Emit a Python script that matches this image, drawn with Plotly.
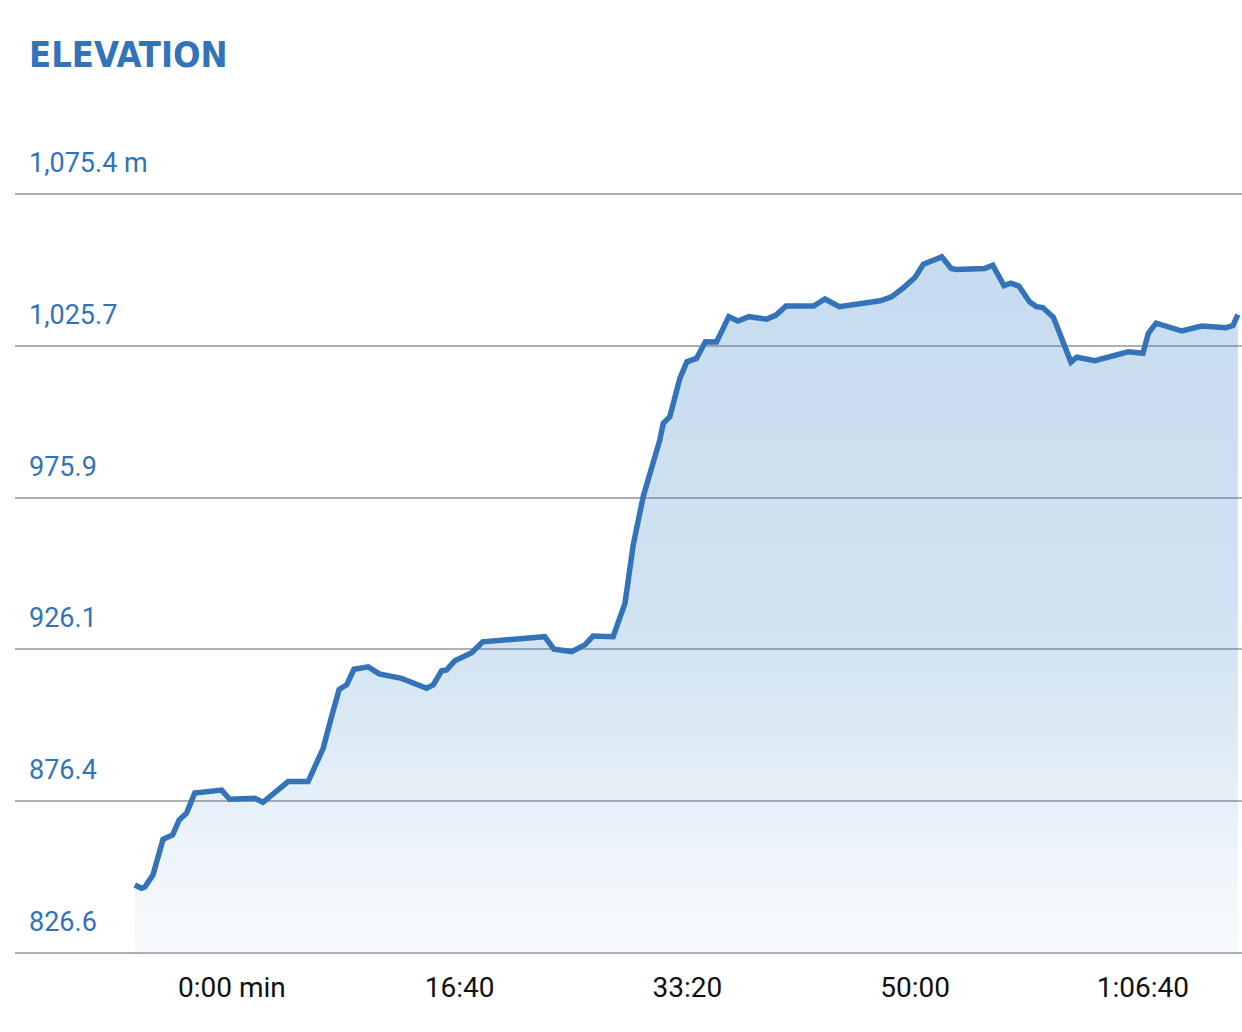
import plotly.graph_objects as go

# elapsed time (seconds) and elevation (m)
time_s = [-426, -397, -382, -346, -302, -260, -231, -199, -163, -45, -9, 101, 137,
          247, 335, 369, 401, 438, 471, 504, 536, 599, 647, 745, 855, 884, 921, 943,
          979, 1053, 1101, 1374, 1414, 1492, 1550, 1586, 1674, 1726, 1762, 1806, 1843,
          1879, 1894, 1923, 1967, 1998, 2040, 2079, 2128, 2182, 2222, 2270, 2349, 2389,
          2433, 2554, 2604, 2667, 2847, 2896, 2946, 3000, 3036, 3117, 3158, 3180, 3305,
          3341, 3390, 3420, 3456, 3502, 3532, 3560, 3607, 3684, 3710, 3789, 3935, 4000,
          4024, 4058, 4171, 4258, 4365, 4395, 4417]
elevation_m = [848.9, 847.8, 848.2, 852.2, 863.9, 865.3, 870.2, 872.4, 879.0, 880.0, 877.0,
               877.3, 876.0, 882.8, 882.8, 888.8, 893.7, 904.1, 913.0, 914.5, 919.6, 920.4,
               918.1, 916.6, 913.4, 914.5, 919.1, 919.4, 922.4, 925.0, 928.6, 930.3, 926.2,
               925.4, 927.6, 930.5, 930.3, 941.2, 960.3, 976.2, 984.9, 994.8, 1000.2, 1002.4,
               1015.0, 1020.4, 1021.5, 1027.0, 1026.9, 1035.2, 1033.8, 1035.2, 1034.4, 1035.7,
               1038.7, 1038.7, 1041.0, 1038.5, 1040.4, 1041.7, 1044.5, 1048.1, 1052.4, 1054.8,
               1051.0, 1050.7, 1051.0, 1052.1, 1045.4, 1046.2, 1045.2, 1040.1, 1038.5, 1038.2,
               1035.0, 1020.3, 1021.9, 1020.8, 1023.7, 1023.2, 1029.8, 1033.1, 1030.5, 1032.1,
               1031.6, 1032.3, 1035.9]

y_ticks = [826.6, 876.4, 926.1, 975.9, 1025.7, 1075.4]
y_tick_labels = ["826.6", "876.4", "926.1", "975.9", "1,025.7", "1,075.4 m"]
x_ticks = [0, 1000, 2000, 3000, 4000]
x_tick_labels = ["0:00 min", "16:40", "33:20", "50:00", "1:06:40"]

BLUE = "rgb(51,115,185)"
FILL = "51,130,196"

fig = go.Figure()
fig.add_trace(go.Scatter(
    x=time_s, y=elevation_m, mode="lines",
    line=dict(color=BLUE, width=5.5),
    fill="tozeroy",
    fillgradient=dict(
        type="vertical", start=826.6, stop=1075.4,
        colorscale=[[0, f"rgba({FILL},0.03)"], [0.2, f"rgba({FILL},0.12)"],
                    [0.4, f"rgba({FILL},0.22)"], [1, f"rgba({FILL},0.29)"]],
    ),
    hoverinfo="skip", showlegend=False,
))

annotations = []
for v, t in zip(y_ticks, y_tick_labels):
    annotations.append(dict(
        x=(27 - 15) / 1227, xref="paper", xanchor="left",
        y=v, yref="y", yanchor="bottom", yshift=13,
        text=t, showarrow=False,
        font=dict(family="Roboto", size=27, color=BLUE),
    ))

fig.update_layout(
    width=1242, height=1032,
    margin=dict(l=15, r=0, t=191, b=76),
    paper_bgcolor="white", plot_bgcolor="white",
    title=dict(
        text="<b>ELEVATION</b>", x=29 / 1242, xanchor="left", xref="container",
        y=1 - 54 / 1032, yanchor="middle", yref="container",
        font=dict(family="DejaVu Sans Condensed", size=36, color=BLUE),
    ),
    xaxis=dict(
        range=[-952, 4435], tickvals=x_ticks, ticktext=x_tick_labels,
        showgrid=False, zeroline=False, showline=False, ticks="",
        ticklabelstandoff=12,
        tickfont=dict(family="Roboto", size=28, color="#111111"),
        fixedrange=True,
    ),
    yaxis=dict(
        range=[825.6, 1076.4], tickvals=y_ticks, showticklabels=False,
        showgrid=True, gridcolor="rgb(172,175,182)", gridwidth=2,
        zeroline=False, showline=False, ticks="", fixedrange=True,
    ),
    annotations=annotations,
)

fig.write_html(
    "out.html",
    config={"displayModeBar": False},
    post_script="document.body.style.margin='0';document.body.style.overflow='hidden';",
)
